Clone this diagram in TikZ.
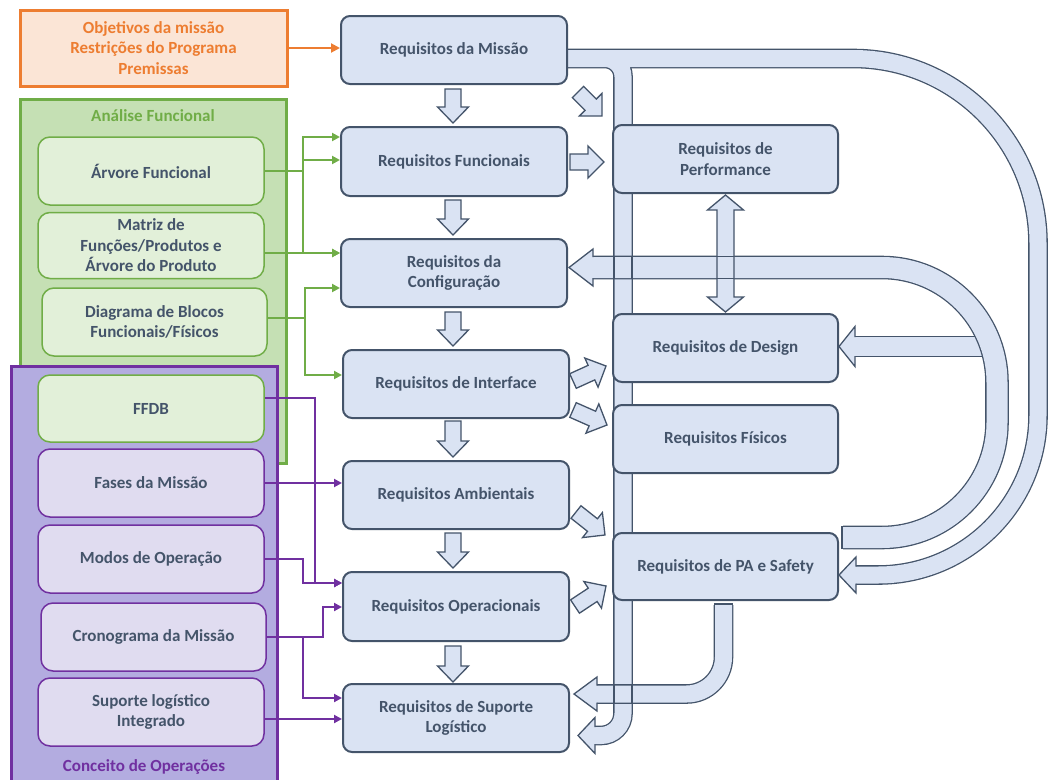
\documentclass[tikz,border=0pt]{standalone}
\usepackage{fontspec}
\setmainfont{Carlito}
\usetikzlibrary{calc,arrows.meta}
\definecolor{bfill}{HTML}{DAE3F3}
\definecolor{bline}{HTML}{44546A}
\definecolor{ored}{HTML}{ED7D31}
\definecolor{ofill}{HTML}{FBE5D6}
\definecolor{gline}{HTML}{70AD47}
\definecolor{gout}{HTML}{C5E0B4}
\definecolor{gin}{HTML}{E2F0D9}
\definecolor{pline}{HTML}{7030A0}
\definecolor{pout}{HTML}{B3ACE0}
\definecolor{pin}{HTML}{E0DCF0}
\pgfdeclarelayer{pipes}
\pgfsetlayers{pipes,main}
\newcommand\blockarr[5]{%
 \coordinate (bA) at #1; \coordinate (bB) at #2;
 \coordinate (bH) at ($(bB)!#5pt!(bA)$);
 \filldraw[blk] ($(bA)!#3pt!90:(bB)$) -- ($(bH)!#3pt!-90:(bA)$) -- ($(bH)!#4pt!-90:(bA)$) -- (bB) -- ($(bH)!#4pt!90:(bA)$) -- ($(bH)!#3pt!90:(bA)$) -- ($(bA)!#3pt!-90:(bB)$) -- cycle;}
\newcommand\pipehead[4]{%
 \coordinate (hB) at #1; \coordinate (hT) at #2;
 \fill[bfill] ($(hB)!#4pt!90:(hT)$) -- (hT) -- ($(hB)!#4pt!-90:(hT)$) -- cycle;
 \draw[xline, line join=miter] ($(hB)!#3pt!90:(hT)$) -- ($(hB)!#4pt!90:(hT)$) -- (hT) -- ($(hB)!#4pt!-90:(hT)$) -- ($(hB)!#3pt!-90:(hT)$);}
\begin{document}
\begin{tikzpicture}[x=1pt,y=-1pt,
  every node/.style={font=\bfseries\fontsize{17}{20.5}\selectfont, text=bline, align=center, inner sep=0pt},
  req/.style={draw=bline, fill=bfill, line width=2pt, rounded corners=9pt, minimum width=226pt, minimum height=68pt},
  rreq/.style={req, minimum width=225pt},
  gbox/.style={draw=gline, fill=gin, line width=1.5pt, rounded corners=12pt, minimum width=226pt, minimum height=68pt},
  pbox/.style={draw=pline, fill=pin, line width=1.5pt, rounded corners=12pt, minimum width=226pt, minimum height=68pt},
  blk/.style={draw=bline, fill=bfill, line width=1.3pt, line join=miter},
  xline/.style={draw=bline, line width=1.3pt},
  pipe/.style n args={2}{draw=bfill, line width=#1, preaction={draw=bline, line width=#2}},
  gc/.style={draw=gline, line width=2pt, -{Triangle[length=8pt,width=8pt]}},
  pc/.style={draw=pline, line width=2pt, -{Triangle[length=8pt,width=8pt]}},
  oc/.style={draw=ored, line width=2pt, -{Triangle[length=9pt,width=9pt]}}
]
\useasboundingbox (0,0) rectangle (1049,779);
\clip (0,0) rectangle (1049,779);

% ---------- left column ----------
\node[draw=ored, fill=ofill, line width=3pt, minimum width=267pt, minimum height=76pt, text=ored] (o1) at (153.5,48) {Objetivos da missão\\Restrições do Programa\\Premissas};
\draw[draw=gline, fill=gout, line width=3pt] (20,99) rectangle (286,463);
\node[text=gline] (gtitle) at (153,116) {Análise Funcional};
\node[gbox] (g1) at (151,171) {Árvore Funcional};
\node[gbox, minimum height=66pt] (g2) at (151,245.5) {Matriz de\\Funções/Produtos e\\Árvore do Produto};
\node[gbox, minimum width=225pt] (g3) at (154.5,322) {Diagrama de Blocos\\Funcionais/Físicos};
\draw[draw=pline, fill=pout, line width=3pt] (11,366) rectangle (277,800);
\node[text=pline] (ptitle) at (144,767) {Conceito de Operações};
\node[gbox, minimum height=67pt] (g4) at (151,408.5) {FFDB};
\node[pbox] (p1) at (151,483) {Fases da Missão};
\node[pbox] (p2) at (151,559) {Modos de Operação};
\node[pbox, minimum width=225pt] (p3) at (153.5,637) {Cronograma da Missão};
\node[pbox] (p4) at (151,712) {Suporte logístico\\Integrado};

% ---------- main column ----------
\node[req] (m1) at (454,50) {Requisitos da Missão};
\node[req, minimum height=69pt] (m2) at (454,161.5) {Requisitos Funcionais};
\node[req] (m3) at (454,273) {Requisitos da\\Configuração};
\node[req] (m4) at (456,384) {Requisitos de Interface};
\node[req] (m5) at (456,495) {Requisitos Ambientais};
\node[req, minimum height=69pt] (m6) at (456,606.5) {Requisitos Operacionais};
\node[req] (m7) at (456,718) {Requisitos de Suporte\\Logístico};

% ---------- right column ----------
\node[rreq] (r1) at (725.5,159) {Requisitos de\\Performance};
\node[rreq] (r2) at (725.5,348) {Requisitos de Design};
\node[rreq] (r3) at (725.5,439) {Requisitos Físicos};
\node[rreq, minimum height=67pt] (r4) at (725.5,566.5) {Requisitos de PA e Safety};

% ---------- big pipes (behind) ----------
\begin{pgfonlayer}{pipes}
 \draw[pipe={19pt}{21.6pt}] (985,346.5) -- ($(r2.east)+(16,-1.5)$);
 \draw[pipe={17pt}{19.6pt}]
   ($(m1.east)+(0,8.5)$) -- (605,58.5) arc[start angle=-90,end angle=0,radius=18] -- (623,713.5) arc[start angle=0,end angle=90,radius=22] -- (594,735.5)
   ($(m1.east)+(0,8.5)$) -- (853,58.5) arc[start angle=-90,end angle=0,radius=185] -- (1038,415) arc[start angle=0,end angle=90,radius=160] -- (855,575);
 \draw[pipe={21pt}{23.6pt}] ($(r4.east)+(4,-29)$) -- (882,537.5) arc[start angle=90,end angle=0,radius=115] -- (997,382.5) arc[start angle=0,end angle=-90,radius=115] -- (592,267.5);
 \draw[xline] (613.9,256.4) -- (613.9,278.6) (632.1,256.4) -- (632.1,278.6);
 \draw[pipe={17pt}{19.6pt}] ($(r4.south)+(-2,4)$) -- (723.5,657) arc[start angle=0,end angle=90,radius=37] -- (596,694);
 \draw[xline] (613.9,684.9) -- (613.9,703.1) (632.1,684.9) -- (632.1,703.1);
 \draw[xline] (714.35,604) -- (732.65,604);
 \draw[xline] (842,526.35) -- (842,548.65);
 \pipehead{(595,735.5)}{($(m7.east)+(8,17.5)$)}{8.5}{18}
 \pipehead{(856,575)}{($(r4.east)+(0,8.5)$)}{8.5}{18}
 \pipehead{(593,267.5)}{($(m3.east)+(1,-5.5)$)}{10.5}{18.5}
 \pipehead{(855,346.5)}{($(r2.east)+(0,-1.5)$)}{9.5}{20}
 \pipehead{(597,694)}{($(m7.east)+(4,-24)$)}{8.5}{17}
\end{pgfonlayer}

% ---------- block arrows ----------
\blockarr{($(m1.south)+(-1,4)$)}{($(m2.north)+(-1,-3)$)}{8}{15.5}{16}
\blockarr{($(m2.south)+(-1,3)$)}{($(m3.north)+(-1,-3)$)}{8}{15.5}{16}
\blockarr{($(m3.south)+(-1,4)$)}{($(m4.north)+(-3,-3)$)}{8}{15.5}{16}
\blockarr{($(m4.south)+(-3,2)$)}{($(m5.north)+(-3,-3)$)}{8}{15.5}{16}
\blockarr{($(m5.south)+(-3,3)$)}{($(m6.north)+(-3,-3)$)}{8}{15.5}{16}
\blockarr{($(m6.south)+(-3,4)$)}{($(m7.north)+(-3,-1)$)}{8}{15.5}{16}
\blockarr{($(m1.south east)+(10,7)$)}{($(r1.north west)+(-10,-8)$)}{8}{16}{16}
\blockarr{($(m2.east)+(2,0.5)$)}{($(r1.west |- m2.east)+(-8,0.5)$)}{8}{16}{16}
\blockarr{($(m4.east)+(3,-3)$)}{($(r2.west)+(-6,18)$)}{8}{16}{16}
\blockarr{($(m4.east)+(3,26)$)}{($(r3.west)+(-5,-14)$)}{8}{16}{16}
\blockarr{($(m5.east)+(6,17)$)}{($(r4.west)+(-7,-31.5)$)}{8}{16}{16}
\blockarr{($(m6.east)+(5,0)$)}{($(r4.west)+(-6,19.5)$)}{8}{16}{16}

% double arrow performance <-> design
\coordinate (dA) at ($(r1.south)+(0,1)$);
\coordinate (dB) at ($(r2.north)+(0,-1)$);
\filldraw[blk] (dA) -- ($(dA)+(18,15)$) -- ($(dA)+(8.5,15)$) -- ($(dB)+(8.5,-15)$) -- ($(dB)+(18,-15)$) -- (dB) -- ($(dB)+(-18,-15)$) -- ($(dB)+(-8.5,-15)$) -- ($(dA)+(-8.5,15)$) -- ($(dA)+(-18,15)$) -- cycle;
\draw[xline] (717,256.4) -- (734,256.4) (717,278.6) -- (734,278.6);

% ---------- thin connectors ----------
\coordinate (gx1) at (303,0); \coordinate (gx2) at (305,0);
\coordinate (px1) at (315,0); \coordinate (px2) at (303,0); \coordinate (px3) at (323,0);
\coordinate (a1) at ($(m2.north west)+(0,11)$);
\coordinate (a2) at ($(m2.west)+(0,-1.5)$);
\coordinate (a3) at ($(m3.west)+(0,-20)$);
\coordinate (a4) at ($(m3.west)+(0,15)$);
\coordinate (a5) at ($(m4.west)+(0,-9)$);
\coordinate (a6) at ($(m6.west)+(0,-23.5)$);
\coordinate (a7) at ($(m6.west)+(0,0.5)$);
\coordinate (a8) at ($(m7.west)+(0,-20)$);
\coordinate (a9) at ($(m7.west)+(0,1)$);
\coordinate (a10) at ($(m5.west)+(0,-12)$);

\draw[oc] (o1.east) -- (o1.east -| m1.west);
\draw[gc] (g1.east) -| (gx1 |- a1) -- (a1);
\draw[gc] (gx1 |- a2) -- (a2);
\draw[gc] (g1.east -| gx1) |- (a3);
\draw[gc] (g2.east |- a3) -- (a3);
\draw[gc] ($(g3.east)+(0,-4)$) -| (gx2 |- a4) -- (a4);
\draw[gc] ($(g3.east)+(0,-4)$) -| (gx2 |- a5) -- (a5);
\draw[pc] ($(g4.east)+(0,-10.5)$) -| (px1 |- a6) -- (a6);
\draw[pc] (p1.east) -- (a10);
\draw[pc] (p2.east) -| (px2 |- a6) -- (a6);
\draw[pc] (p3.east) -| (px3 |- a7) -- (a7);
\draw[pc] (p3.east) -| (px2 |- a8) -- (a8);
\draw[pc] ($(p4.east)+(0,7)$) -- (a9);
\end{tikzpicture}
\end{document}
